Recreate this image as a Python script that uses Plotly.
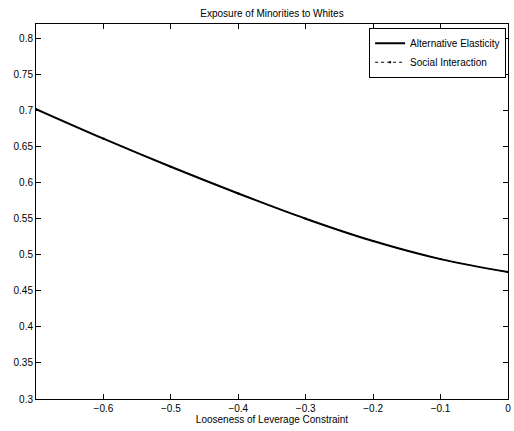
import plotly.graph_objects as go

looseness = [-0.7, -0.6, -0.5, -0.4, -0.3, -0.2, -0.1, 0.0]
alt_elasticity = [0.702, 0.661, 0.622, 0.585, 0.550, 0.519, 0.494, 0.476]
social_interaction = [0.702, 0.661, 0.622, 0.585, 0.550, 0.519, 0.494, 0.476]

x_ticks = [-0.6, -0.5, -0.4, -0.3, -0.2, -0.1, 0]
x_ticklabels = ["\u22120.6", "\u22120.5", "\u22120.4", "\u22120.3", "\u22120.2", "\u22120.1", "0"]
y_ticks = [0.3, 0.35, 0.4, 0.45, 0.5, 0.55, 0.6, 0.65, 0.7, 0.75, 0.8]
y_ticklabels = ["0.3", "0.35", "0.4", "0.45", "0.5", "0.55", "0.6", "0.65", "0.7", "0.75", "0.8"]

font = "Liberation Sans, Arial, Helvetica, sans-serif"

fig = go.Figure()
fig.add_trace(go.Scatter(x=looseness, y=social_interaction, mode="lines+markers",
                         line=dict(color="black", width=1, dash="dot", shape="spline"),
                         marker=dict(color="black", size=2, symbol="square"),
                         name="Social Interaction"))
fig.add_trace(go.Scatter(x=looseness, y=alt_elasticity, mode="lines",
                         line=dict(color="black", width=2, shape="spline"),
                         name="Alternative Elasticity"))

axis_common = dict(showline=True, linecolor="black", linewidth=1, mirror="ticks",
                   ticks="inside", ticklen=5, tickcolor="black", showgrid=False,
                   zeroline=False, ticklabeloverflow="allow",
                   tickfont=dict(family=font, size=10, color="black"))

fig.update_layout(
    width=514, height=431,
    margin=dict(l=36, r=3, t=24, b=32),
    paper_bgcolor="white", plot_bgcolor="white",
    font=dict(family=font, size=10, color="black"),
    title=dict(text="Exposure of Minorities to Whites", x=0.5, xanchor="center",
               y=1 - 13.5 / 431, yanchor="middle",
               xref="paper", font=dict(family=font, size=10, color="black")),
    xaxis=dict(range=[-0.7, 0], tickvals=x_ticks, ticktext=x_ticklabels,
               title=dict(text="Looseness of Leverage Constraint", standoff=2,
                          font=dict(family=font, size=10, color="black")),
               **axis_common),
    yaxis=dict(range=[0.3, 0.82], tickvals=y_ticks, ticktext=y_ticklabels,
               **axis_common),
    legend=dict(x=0.996, y=0.99, xanchor="right", yanchor="top",
                bgcolor="white", bordercolor="black", borderwidth=1,
                font=dict(family=font, size=10, color="black"),
                traceorder="reversed", tracegroupgap=0, itemwidth=30),
    showlegend=True,
)

fig.write_html("out.html",
               config={"displayModeBar": False},
               post_script="document.body.style.margin='0';document.body.style.overflow='hidden';")
